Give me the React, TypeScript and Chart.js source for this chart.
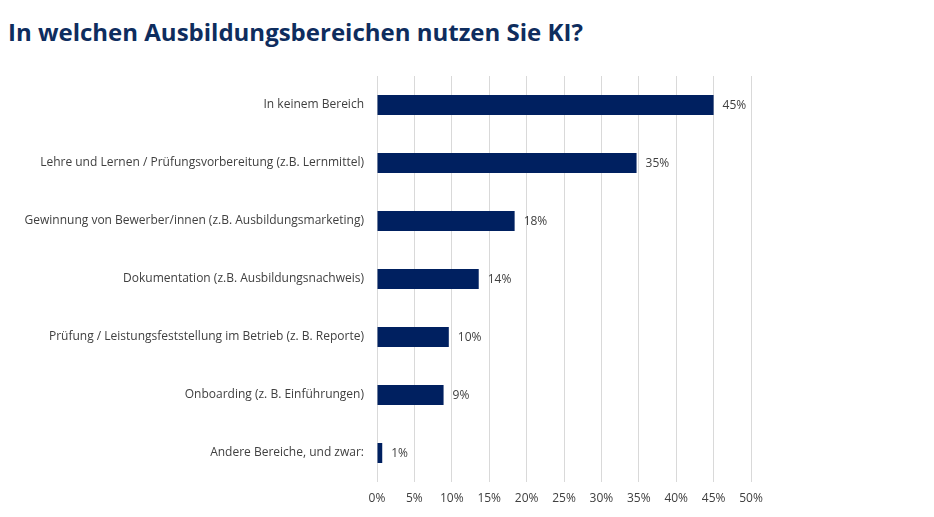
import React, { useEffect, useRef } from "react";
import { Chart, registerables } from "chart.js";

Chart.register(...registerables);

const categories: string[] = [
  "In keinem Bereich",
  "Lehre und Lernen / Prüfungsvorbereitung (z.B. Lernmittel)",
  "Gewinnung von Bewerber/innen (z.B. Ausbildungsmarketing)",
  "Dokumentation (z.B. Ausbildungsnachweis)",
  "Prüfung / Leistungsfeststellung im Betrieb (z. B. Reporte)",
  "Onboarding (z. B. Einführungen)",
  "Andere Bereiche, und zwar:",
];
const values: number[] = [45, 34.7, 18.4, 13.6, 9.6, 8.9, 0.7];
const valueLabels: string[] = ["45%", "35%", "18%", "14%", "10%", "9%", "1%"];
const xTicks: number[] = [0, 5, 10, 15, 20, 25, 30, 35, 40, 45, 50];

const FONT = "'Open Sans', 'Noto Sans', sans-serif";
const TEXT = "#404040";

const valueLabelPlugin = {
  id: "valueLabels",
  afterDatasetsDraw(chart: any) {
    const ctx = chart.ctx;
    const meta = chart.getDatasetMeta(0);
    ctx.save();
    ctx.font = `12px ${FONT}`;
    ctx.fillStyle = TEXT;
    ctx.textAlign = "left";
    ctx.textBaseline = "middle";
    meta.data.forEach((bar: any, i: number) => {
      ctx.fillText(valueLabels[i], bar.x + 9, bar.y + 1);
    });
    ctx.restore();
  },
};

export default function App() {
  const ref = useRef<HTMLCanvasElement>(null);
  useEffect(() => {
    if (!ref.current) return;
    const chart = new Chart(ref.current, {
      type: "bar",
      data: {
        labels: categories,
        datasets: [
          {
            data: values,
            backgroundColor: "#002060",
            categoryPercentage: 1,
            barPercentage: 0.345,
          },
        ],
      },
      options: {
        indexAxis: "y",
        animation: false,
        responsive: false,
        devicePixelRatio: 1,
        layout: { padding: { top: 76, right: 183, bottom: 0, left: 0 } },
        plugins: {
          legend: { display: false },
          tooltip: { enabled: false },
          title: { display: false },
        },
        scales: {
          x: {
            min: 0,
            max: 50,
            afterBuildTicks: (axis: any) => {
              axis.ticks = xTicks.map((v) => ({ value: v }));
            },
            afterFit: (axis: any) => {
              axis.height = 35;
            },
            grid: { color: "#d9d9d9", drawTicks: false, lineWidth: 1 },
            border: { display: false },
            ticks: {
              padding: 9,
              color: TEXT,
              font: { family: FONT, size: 12 },
              callback: (v: any) => `${v}%`,
            },
          },
          y: {
            afterFit: (axis: any) => {
              axis.width = 377;
            },
            grid: { display: false, drawTicks: false },
            border: { display: false },
            ticks: {
              padding: 13,
              color: TEXT,
              font: { family: FONT, size: 12 },
            },
          },
        },
      },
      plugins: [valueLabelPlugin],
    });
    return () => chart.destroy();
  }, []);

  return (
    <div style={{ position: "absolute", left: 0, top: 0, width: 934, height: 517, background: "#fff" }}>
      <div
        style={{
          position: "absolute",
          left: 8,
          top: 18,
          fontFamily: FONT,
          fontWeight: 700,
          fontSize: 24,
          lineHeight: "28px",
          color: "#0e2d5e",
          whiteSpace: "nowrap",
        }}
      >
        In welchen Ausbildungsbereichen nutzen Sie KI?
      </div>
      <canvas ref={ref} width={934} height={517} style={{ position: "absolute", left: 0, top: 0 }} />
    </div>
  );
}
